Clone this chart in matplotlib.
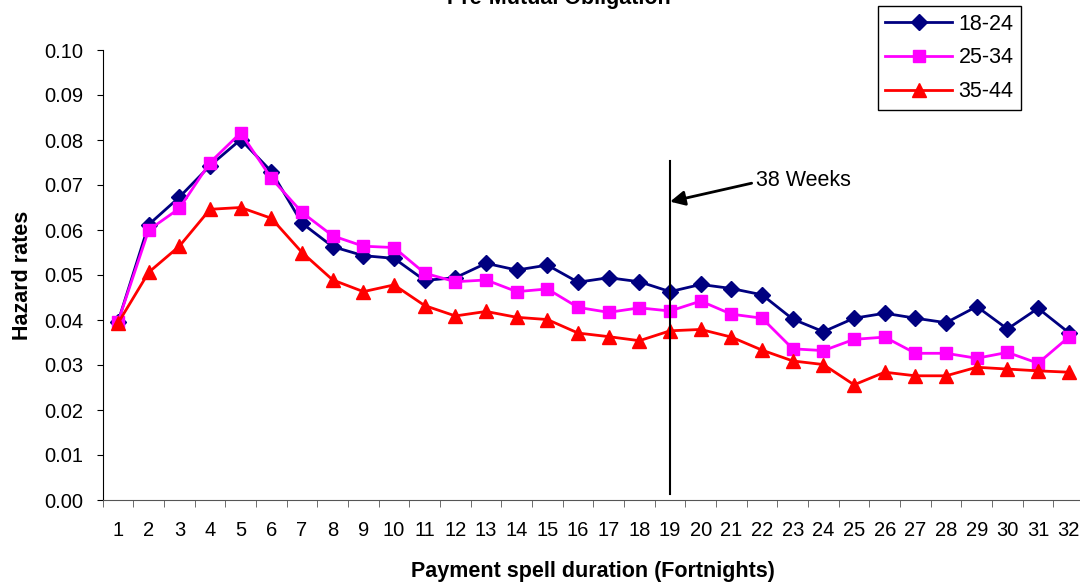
import numpy as np
import matplotlib
matplotlib.use("Agg")
import matplotlib.pyplot as plt

plt.rcParams['font.family'] = ['Liberation Sans', 'DejaVu Sans']

# fortnights 1..32
fortnights = list(range(1, 33))

# hazard rates
age_18_24 = [0.0396, 0.0612, 0.0673, 0.0743, 0.0801, 0.0730, 0.0615, 0.0563,
             0.0543, 0.0537, 0.0488, 0.0494, 0.0526, 0.0511, 0.0522, 0.0484,
             0.0494, 0.0485, 0.0463, 0.0479, 0.0470, 0.0456, 0.0402, 0.0374,
             0.0404, 0.0415, 0.0404, 0.0394, 0.0430, 0.0380, 0.0426, 0.0372]
age_25_34 = [0.0396, 0.0600, 0.0648, 0.0750, 0.0816, 0.0715, 0.0639, 0.0587,
             0.0564, 0.0561, 0.0504, 0.0485, 0.0489, 0.0463, 0.0469, 0.0428,
             0.0417, 0.0427, 0.0420, 0.0442, 0.0413, 0.0404, 0.0336, 0.0332,
             0.0357, 0.0362, 0.0326, 0.0326, 0.0315, 0.0328, 0.0304, 0.0362]
age_35_44 = [0.0393, 0.0506, 0.0564, 0.0646, 0.0650, 0.0626, 0.0550, 0.0489,
             0.0463, 0.0478, 0.0432, 0.0409, 0.0419, 0.0406, 0.0401, 0.0371,
             0.0363, 0.0354, 0.0376, 0.0379, 0.0362, 0.0333, 0.0309, 0.0301,
             0.0256, 0.0284, 0.0276, 0.0276, 0.0295, 0.0291, 0.0287, 0.0284]

series_labels = ['18-24', '25-34', '35-44']
yticks = [0.00, 0.01, 0.02, 0.03, 0.04, 0.05, 0.06, 0.07, 0.08, 0.09, 0.10]

fig = plt.figure(figsize=(10.8, 5.83), dpi=100)
ax = fig.add_axes([102.7/1080, 1-500/583, 981.4/1080, 450/583])

ax.plot(fortnights, age_18_24, color='#000080', marker='D', markersize=8,
        lw=2, label=series_labels[0])
ax.plot(fortnights, age_25_34, color='#FF00FF', marker='s', markersize=9,
        lw=2, label=series_labels[1])
ax.plot(fortnights, age_35_44, color='#FF0000', marker='^', markersize=10,
        lw=2, label=series_labels[2])

# 38 weeks marker line and arrow
ax.plot([19, 19], [0.0013, 0.0753], color='black', lw=1.5)
ax.annotate('', xy=(19, 0.0663), xytext=(21.66, 0.0704),
            arrowprops=dict(arrowstyle='-|>', lw=2, color='black',
                            mutation_scale=22, shrinkA=0, shrinkB=0))
ax.text(21.8, 0.0711, '38 Weeks', fontsize=15.5, ha='left', va='center')

ax.set_xlim(0.5, 32.5)
ax.set_ylim(0, 0.1)
ax.set_xticks(fortnights)
ax.set_xticklabels([str(f) for f in fortnights], fontsize=14.5)
ax.set_xticks(np.arange(0.5, 33, 1), minor=True)
ax.tick_params(axis='x', which='major', length=0, pad=15)
ax.tick_params(axis='x', which='minor', length=5, direction='out', color='#555555')
ax.set_yticks(yticks)
ax.set_yticklabels(['%.2f' % t for t in yticks], fontsize=14.5)
ax.tick_params(axis='y', length=4, direction='out', pad=10)

for s in ['top', 'right']:
    ax.spines[s].set_visible(False)
ax.spines['bottom'].set_color('#555555')
ax.spines['left'].set_color('black')

ax.set_xlabel('Payment spell duration (Fortnights)', fontsize=15.5,
              fontweight='bold', labelpad=15)
ax.set_ylabel('Hazard rates', fontsize=15.5, fontweight='bold', labelpad=8)

fig.text(559/1080, 1-4/583, 'Pre-Mutual Obligation', ha='center',
         va='baseline', fontsize=15.5, fontweight='bold')

leg = fig.legend(loc='upper right', bbox_to_anchor=(1021/1080, 1-6/583),
                 fontsize=15.5, handlelength=3.1, labelspacing=0.6,
                 handletextpad=0.3, borderpad=0.35,
                 fancybox=False, framealpha=1, edgecolor='black',
                 borderaxespad=0)
leg.get_frame().set_linewidth(1)

fig.savefig('out.png', dpi=100)
